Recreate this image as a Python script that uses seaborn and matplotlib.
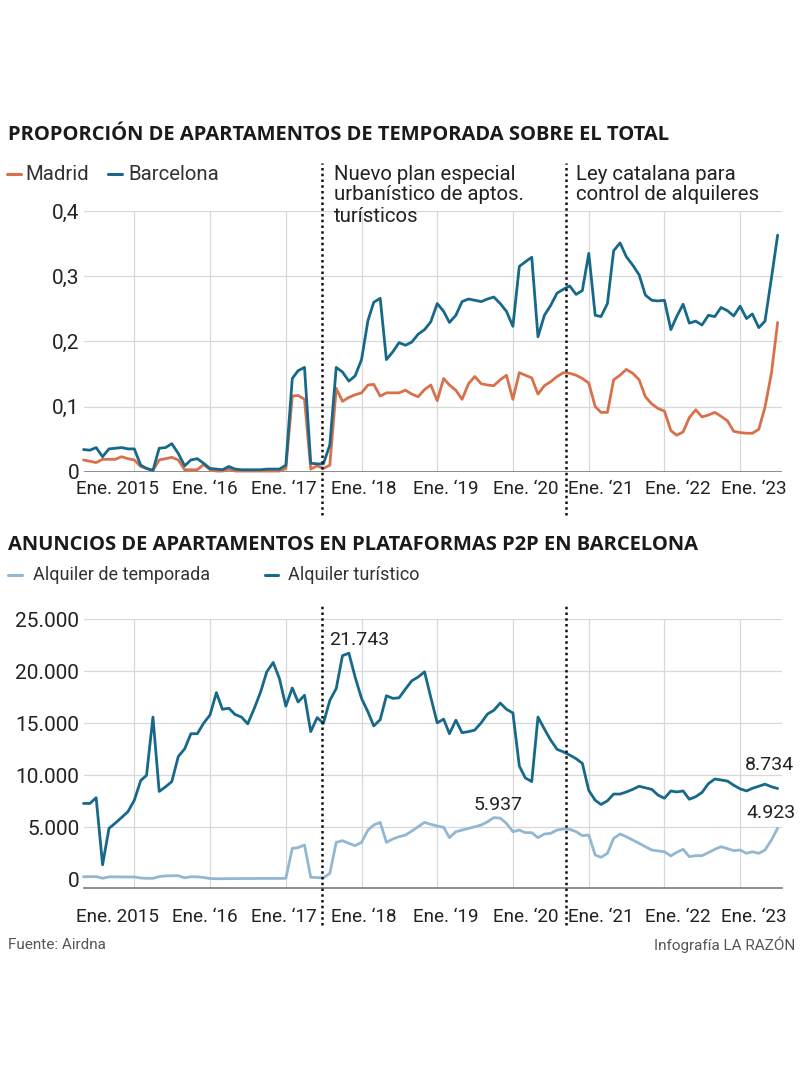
import numpy as np
import pandas as pd
import matplotlib
matplotlib.use("Agg")
import matplotlib.pyplot as plt
from matplotlib.lines import Line2D
from matplotlib.ticker import FuncFormatter
import seaborn as sns

# ---------------- data (monthly, May 2014 - Jul 2023) ----------------
fecha_inicio = "2014-05-01"
fecha_fin = "2023-07-01"

madrid = [
    0.018, 0.016, 0.014, 0.019, 0.019, 0.019, 0.023, 0.020,
    0.018, 0.008, 0.005, 0.002, 0.018, 0.020, 0.022, 0.018, 0.003, 0.003, 0.003, 0.011,
    0.003, 0.001, 0.001, 0.004, 0.001, 0.001, 0.001, 0.001, 0.001, 0.001, 0.001, 0.001,
    0.005, 0.116, 0.117, 0.111, 0.004, 0.009, 0.005, 0.010, 0.128, 0.108, 0.114, 0.118,
    0.121, 0.133, 0.134, 0.116, 0.121, 0.121, 0.121, 0.125, 0.119, 0.115, 0.126, 0.133,
    0.109, 0.143, 0.133, 0.125, 0.111, 0.135, 0.146, 0.135, 0.133, 0.132, 0.141, 0.148,
    0.111, 0.152, 0.148, 0.144, 0.119, 0.132, 0.138, 0.146, 0.152, 0.151, 0.148, 0.143,
    0.136, 0.100, 0.091, 0.091, 0.141, 0.148, 0.157, 0.151, 0.141, 0.115, 0.104, 0.097,
    0.093, 0.063, 0.056, 0.061, 0.083, 0.095, 0.084, 0.087, 0.091, 0.085, 0.078, 0.062,
    0.060, 0.059, 0.059, 0.065, 0.099, 0.151, 0.229,
]
barcelona = [
    0.034, 0.033, 0.037, 0.023, 0.035, 0.036, 0.037, 0.035,
    0.035, 0.010, 0.005, 0.002, 0.036, 0.037, 0.043, 0.028, 0.009, 0.018, 0.020, 0.013,
    0.005, 0.004, 0.003, 0.008, 0.004, 0.003, 0.003, 0.003, 0.003, 0.004, 0.004, 0.004,
    0.010, 0.143, 0.155, 0.160, 0.013, 0.012, 0.012, 0.041, 0.160, 0.153, 0.139, 0.147,
    0.172, 0.232, 0.260, 0.266, 0.172, 0.184, 0.198, 0.194, 0.199, 0.211, 0.218, 0.230,
    0.258, 0.246, 0.229, 0.240, 0.261, 0.265, 0.263, 0.261, 0.265, 0.268, 0.258, 0.246,
    0.223, 0.315, 0.322, 0.329, 0.207, 0.240, 0.255, 0.274, 0.280, 0.285, 0.272, 0.278,
    0.335, 0.240, 0.238, 0.258, 0.339, 0.351, 0.330, 0.317, 0.302, 0.271, 0.263, 0.262,
    0.263, 0.218, 0.238, 0.257, 0.228, 0.231, 0.225, 0.240, 0.238, 0.252, 0.247, 0.239,
    0.254, 0.235, 0.242, 0.221, 0.231, 0.297, 0.363,
]
temporada = [
    250, 260, 270, 110, 240, 240, 230, 230,
    230, 130, 100, 100, 260, 330, 340, 350, 150, 250, 240, 180,
    80, 60, 60, 70, 70, 80, 80, 80, 90, 90, 90, 90,
    100, 2980, 3050, 3300, 200, 170, 150, 580, 3560, 3720, 3460, 3240,
    3560, 4740, 5220, 5480, 3560, 3880, 4100, 4260, 4650, 5060, 5480, 5290,
    5130, 5000, 4010, 4580, 4740, 4900, 5060, 5220, 5540, 5937, 5880, 5380,
    4580, 4740, 4490, 4490, 4010, 4360, 4420, 4740, 4840, 4810, 4580, 4200,
    4260, 2340, 2120, 2500, 3940, 4360, 4100, 3780, 3460, 3140, 2820, 2730,
    2660, 2250, 2600, 2890, 2180, 2280, 2280, 2570, 2890, 3140, 2950, 2760,
    2820, 2500, 2660, 2500, 2820, 3780, 4923,
]
turistico = [
    7300, 7300, 7850, 1400, 4900, 5400, 5950, 6500,
    7600, 9500, 10000, 15600, 8450, 8900, 9400, 11800, 12550, 14000, 14000, 15000,
    15800, 17950, 16350, 16450, 15850, 15600, 14950, 16400, 18000, 19950, 20850, 19300,
    16650, 18400, 17050, 17700, 14200, 15550, 15000, 17200, 18350, 21500, 21743, 19450,
    17400, 16100, 14750, 15350, 17650, 17400, 17450, 18300, 19100, 19450, 19950, 17500,
    15050, 15400, 14000, 15300, 14100, 14200, 14350, 15050, 15900, 16250, 16950, 16350,
    16000, 10900, 9750, 9400, 15600, 14450, 13400, 12500, 12250, 11950, 11600, 11150,
    8550, 7600, 7200, 7550, 8200, 8200, 8400, 8650, 8950, 8800, 8650, 8100,
    7800, 8500, 8400, 8500, 7700, 7950, 8350, 9200, 9650, 9550, 9450, 9050,
    8700, 8500, 8750, 8950, 9150, 8900, 8734,
]

series_top = ["Madrid", "Barcelona"]
series_bot = ["Alquiler de temporada", "Alquiler turístico"]
yticks_top = [0, 0.1, 0.2, 0.3, 0.4]
yticks_bot = [0, 5000, 10000, 15000, 20000, 25000]
anios = [2015, 2016, 2017, 2018, 2019, 2020, 2021, 2022, 2023]
xtick_labels = ["Ene. 2015", "Ene. \u201816", "Ene. \u201817", "Ene. \u201818", "Ene. \u201819",
                "Ene. \u201820", "Ene. \u201821", "Ene. \u201822", "Ene. \u201823"]
eventos = ["2017-06-25", "2020-09-14"]
textos_eventos = [["Nuevo plan especial", "urbanístico de aptos.", "turísticos"],
                  ["Ley catalana para", "control de alquileres"]]
titulo_top = "PROPORCIÓN DE APARTAMENTOS DE TEMPORADA SOBRE EL TOTAL"
titulo_bot = "ANUNCIOS DE APARTAMENTOS EN PLATAFORMAS P2P EN BARCELONA"

C_MAD = "#d8714b"
C_BCN = "#17698a"
C_TEMP = "#93b7d1"
C_TUR = "#17698a"
C_TXT = "#222222"
C_GRID = "#d8d8d8"

# ---------------- setup ----------------
sns.set_theme(style="white")
plt.rcParams["font.family"] = ["Roboto", "DejaVu Sans"]

W, H = 800, 1075
fig = plt.figure(figsize=(W / 100, H / 100), dpi=100)


def fx(x):
    return x / W


def fy(y):
    return 1 - y / H


fechas = pd.date_range(fecha_inicio, fecha_fin, freq="MS")
x_left = pd.Timestamp(fecha_inicio)
x_right = pd.Timestamp("2023-07-22")
xticks = [pd.Timestamp(f"{a}-01-01") for a in anios]
# horizontal nudge (px) of each month label relative to its gridline, as in the original
label_dx = [-17, -5.5, -1.5, 2.5, 9, 13, 12, 13.5, 13.5]

ax1 = fig.add_axes([fx(83.5), fy(471.7), (782 - 83.5) / W, (471.7 - 211) / H])
ax2 = fig.add_axes([fx(83.5), fy(888.3), (782 - 83.5) / W, (888.3 - 619.3) / H])

df_top = pd.DataFrame({
    "fecha": np.tile(fechas, 2),
    "valor": madrid + barcelona,
    "serie": np.repeat(series_top, len(fechas)),
})
df_bot = pd.DataFrame({
    "fecha": np.tile(fechas, 2),
    "valor": temporada + turistico,
    "serie": np.repeat(series_bot, len(fechas)),
})

sns.lineplot(data=df_top, x="fecha", y="valor", hue="serie", hue_order=series_top,
             palette=[C_MAD, C_BCN], ax=ax1, legend=False, linewidth=2.0, clip_on=False)
sns.lineplot(data=df_bot, x="fecha", y="valor", hue="serie", hue_order=series_bot,
             palette=[C_TEMP, C_TUR], ax=ax2, legend=False, linewidth=2.0, clip_on=False)

fmt_top = FuncFormatter(lambda v, p: "0" if abs(v) < 1e-9 else f"{v:.1f}".replace(".", ","))
fmt_bot = FuncFormatter(lambda v, p: f"{int(round(v)):,}".replace(",", "."))

for ax, yt, fmt, dy in [(ax1, yticks_top, fmt_top, -17.5), (ax2, yticks_bot, fmt_bot, -28.5)]:
    ax.set_xlim(x_left, x_right)
    ax.set_xticks(xticks)
    ax.set_xticklabels([])
    ax.set_yticks(yt)
    ax.yaxis.set_major_formatter(fmt)
    ax.set_xlabel("")
    ax.set_ylabel("")
    ax.grid(True, color=C_GRID, linewidth=0.9)
    ax.set_axisbelow(True)
    for s in ax.spines.values():
        s.set_visible(False)
    ax.tick_params(axis="x", length=0)
    ax.tick_params(axis="y", length=0, labelsize=15, colors=C_TXT, pad=3)
    for t, lab, dx in zip(xticks, xtick_labels, label_dx):
        ax.annotate(lab, xy=(t, 0), xycoords=("data", "axes fraction"), xytext=(dx, dy),
                    textcoords="offset pixels", ha="center", va="center", fontsize=13.6,
                    color=C_TXT, annotation_clip=False)

ax1.set_ylim(0, 0.4)
ax2.set_ylim(-860, 25000)

ax1.axhline(0, color="#7a7a7a", linewidth=1.2, zorder=1.5)
ax2.spines["bottom"].set_visible(True)
ax2.spines["bottom"].set_color("#7a7a7a")
ax2.spines["bottom"].set_linewidth(1.2)
ax2.get_ygridlines()[0].set_visible(False)

# event lines
for ev in eventos:
    ax1.axvline(pd.Timestamp(ev), ymin=-0.166, ymax=1.184, color="#111111", linewidth=1.8,
                linestyle=(0, (1, 1.3)), clip_on=False, zorder=3)
    ax2.axvline(pd.Timestamp(ev), ymin=-0.136, ymax=1.053, color="#111111", linewidth=1.8,
                linestyle=(0, (1, 1.3)), clip_on=False, zorder=3)

for x0, lineas in zip([334, 576], textos_eventos):
    for k, linea in enumerate(lineas):
        fig.text(fx(x0), fy(174 + 21 * k), linea, va="center", ha="left", fontsize=14.7,
                 color=C_TXT)

# titles
fig.text(fx(8), fy(135), titulo_top, va="center", ha="left", fontsize=14.5,
         fontweight="bold", color="#1a1a1a", family=["Open Sans", "DejaVu Sans"])
fig.text(fx(8), fy(545), titulo_bot, va="center", ha="left", fontsize=14.5,
         fontweight="bold", color="#1a1a1a", family=["Open Sans", "DejaVu Sans"])


# legends
def leyenda(x0, x1, xt, y, color, texto, fs):
    fig.add_artist(Line2D([fx(x0), fx(x1)], [fy(y), fy(y)], color=color, linewidth=2.2,
                          transform=fig.transFigure))
    fig.text(fx(xt), fy(y), texto, va="center", ha="left", fontsize=fs, color="#333333")


leyenda(7, 21, 25, 174, C_MAD, series_top[0], 14.7)
leyenda(108, 122, 128, 174, C_BCN, series_top[1], 14.7)
leyenda(8, 22, 33, 575, C_TEMP, series_bot[0], 13)
leyenda(265, 278, 288, 575, C_TUR, series_bot[1], 13)


# value annotations
def etiqueta(idx, val, dx, dy):
    ax2.annotate(f"{val:,}".replace(",", "."), xy=(fechas[idx], val), xytext=(dx, dy),
                 textcoords="offset pixels", ha="center", va="center", fontsize=14,
                 color=C_TXT)


i_max_tur = int(np.argmax(turistico))
i_max_temp = int(np.argmax(temporada[:100]))
etiqueta(i_max_tur, turistico[i_max_tur], 10, 13)
etiqueta(i_max_temp, temporada[i_max_temp], 4, 13)
etiqueta(len(fechas) - 1, turistico[-1], -8, 24)
etiqueta(len(fechas) - 1, temporada[-1], -7, 15)

# footer
fig.text(fx(8), fy(945), "Fuente: Airdna", va="center", ha="left", fontsize=11, color="#555555")
fig.text(fx(795), fy(945), "Infografía LA RAZÓN", va="center", ha="right", fontsize=11,
         color="#555555")

fig.savefig("out.png", dpi=100)
